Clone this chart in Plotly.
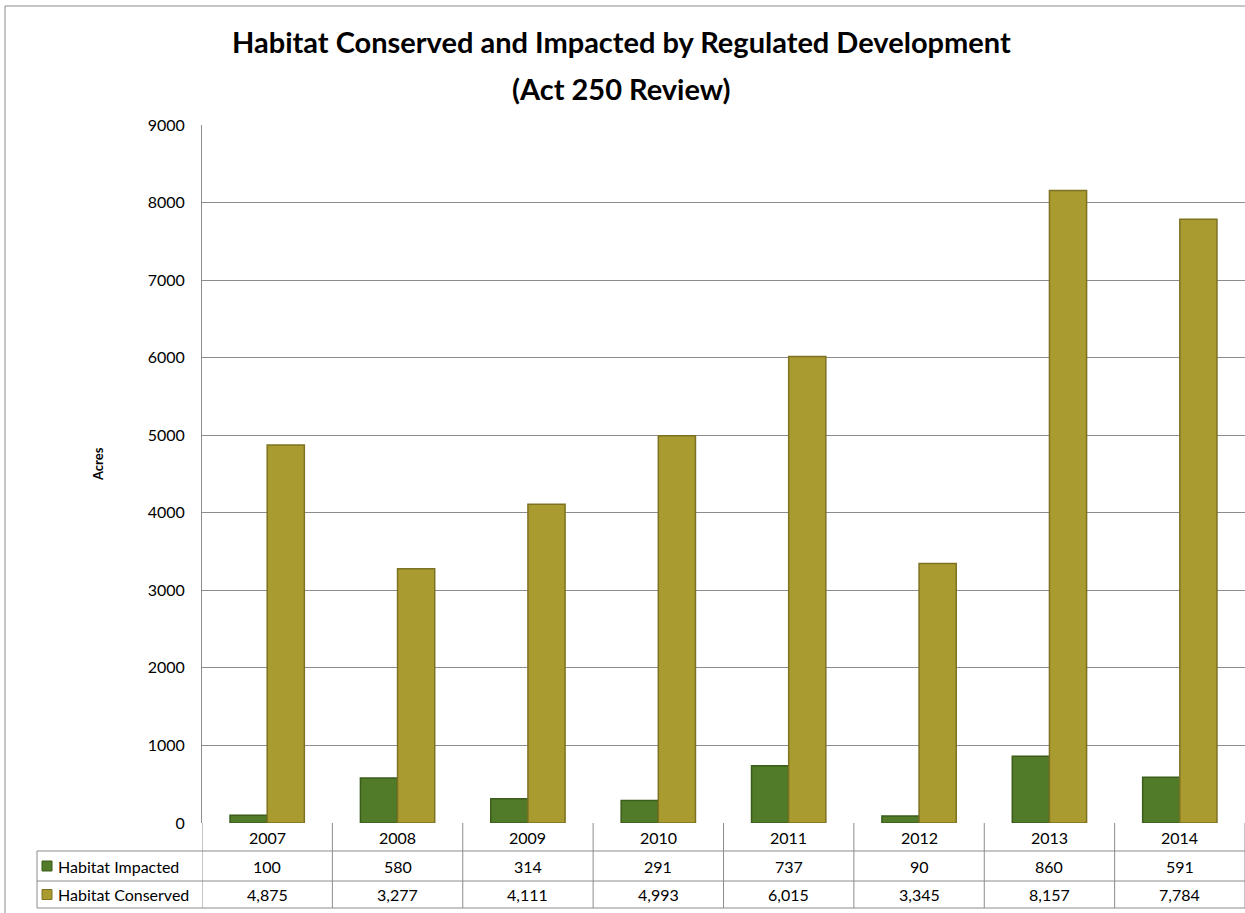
import plotly.graph_objects as go

years = ["2007", "2008", "2009", "2010", "2011", "2012", "2013", "2014"]
impacted = [100, 580, 314, 291, 737, 90, 860, 591]
conserved = [4875, 3277, 4111, 4993, 6015, 3345, 8157, 7784]
series_names = ["Habitat Impacted", "Habitat Conserved"]
title_lines = ["Habitat Conserved and Impacted by Regulated Development", "(Act 250 Review)"]
y_title = "Acres"

W, H = 1245, 913
ML, MR, MT, MB = 202, 0, 125, 90
PH = H - MT - MB
PW = W - ML - MR

GREEN = "#517B28"
GREEN_LINE = "#3B5C1B"
GOLD = "#A99B30"
GOLD_LINE = "#7D7222"
GRID = "#8C8C8C"
FONT = "Lato, 'Noto Sans', Arial, sans-serif"

def py(pix):  # pixel y -> paper y
    return (H - MB - pix) / PH

def px(pix):  # pixel x -> paper x
    return (pix - ML) / PW

fig = go.Figure()
fig.add_trace(go.Bar(x=years, y=impacted, name=series_names[0],
                     marker=dict(color=GREEN, line=dict(color=GREEN_LINE, width=1.5))))
fig.add_trace(go.Bar(x=years, y=conserved, name=series_names[1],
                     marker=dict(color=GOLD, line=dict(color=GOLD_LINE, width=1.5))))

shapes = []
annotations = []

# table geometry (pixels)
row_top = H - MB
row1 = row_top + 28
row2 = row1 + 30
row3 = row2 + 27
leg_left = 37

line_style = dict(color=GRID, width=1)
for yy in [row1, row2, row3]:
    shapes.append(dict(type="line", xref="paper", yref="paper", x0=0, x1=1,
                       y0=py(yy), y1=py(yy), line=line_style))
for yy in [row1, row2, row3]:
    shapes.append(dict(type="line", xref="paper", yref="paper", x0=px(leg_left), x1=0,
                       y0=py(yy), y1=py(yy), line=line_style))
shapes.append(dict(type="line", xref="paper", yref="paper", x0=px(leg_left), x1=px(leg_left),
                   y0=py(row1), y1=py(row3), line=line_style))
for i in range(len(years) + 1):
    shapes.append(dict(type="line", xref="x", yref="paper", x0=i - 0.5, x1=i - 0.5,
                       y0=0, y1=py(row3), line=line_style))

# outer chart border
shapes.append(dict(type="rect", xref="paper", yref="paper", x0=px(5), x1=px(W + 5),
                   y0=py(6), y1=py(H + 5), line=dict(color="#8C8C8C", width=1)))

# legend swatches
for (yy0, yy1), col, lc in [((row1, row2), GREEN, GREEN_LINE), ((row2, row3), GOLD, GOLD_LINE)]:
    cy = (yy0 + yy1) / 2
    shapes.append(dict(type="rect", xref="paper", yref="paper", x0=px(42), x1=px(52),
                       y0=py(cy - 5), y1=py(cy + 5), fillcolor=col, line=dict(color=lc, width=1)))

tfont = dict(family=FONT, size=16, color="#000000")
for i, yr in enumerate(years):
    annotations.append(dict(x=i, xref="x", y=py((row_top + row1) / 2), yref="paper",
                            text=yr, showarrow=False, font=tfont, xanchor="center", yanchor="middle"))
    annotations.append(dict(x=i, xref="x", y=py((row1 + row2) / 2), yref="paper",
                            text=f"{impacted[i]:,}", showarrow=False, font=tfont,
                            xanchor="center", yanchor="middle"))
    annotations.append(dict(x=i, xref="x", y=py((row2 + row3) / 2), yref="paper",
                            text=f"{conserved[i]:,}", showarrow=False, font=tfont,
                            xanchor="center", yanchor="middle"))
for name, (yy0, yy1) in zip(series_names, [(row1, row2), (row2, row3)]):
    annotations.append(dict(x=px(56), xref="paper", y=py((yy0 + yy1) / 2), yref="paper",
                            text=name, showarrow=False, font=tfont, xanchor="left", yanchor="middle"))

for line, cy in zip(title_lines, [42, 88]):
    annotations.append(dict(x=px(621), xref="paper", y=py(cy), yref="paper", text=f"<b>{line}</b>",
                            showarrow=False, font=dict(family=FONT, size=29, color="#000000"),
                            xanchor="center", yanchor="middle"))
annotations.append(dict(x=px(98), xref="paper", y=py(464), yref="paper", text=f"<b>{y_title}</b>",
                        textangle=-90, showarrow=False, font=dict(family=FONT, size=13, color="#000000"),
                        xanchor="center", yanchor="middle"))

fig.update_layout(
    width=W, height=H,
    margin=dict(l=ML, r=MR, t=MT, b=MB, autoexpand=False),
    paper_bgcolor="white", plot_bgcolor="white",
    barmode="group", bargap=0.43, bargroupgap=0.0,
    showlegend=False,
    shapes=shapes, annotations=annotations,
    xaxis=dict(type="category", range=[-0.5, len(years) - 0.5], showticklabels=False,
               showgrid=False, zeroline=False, showline=False, ticks="", automargin=False),
    yaxis=dict(range=[0, 9000], dtick=1000, showgrid=True, gridcolor=GRID, gridwidth=1,
               zeroline=False, showline=True, linecolor=GRID, linewidth=1,
               tickfont=dict(family=FONT, size=16, color="#000000"),
               ticklabelstandoff=13, ticks="", automargin=False),
)

fig.write_html("out.html")
